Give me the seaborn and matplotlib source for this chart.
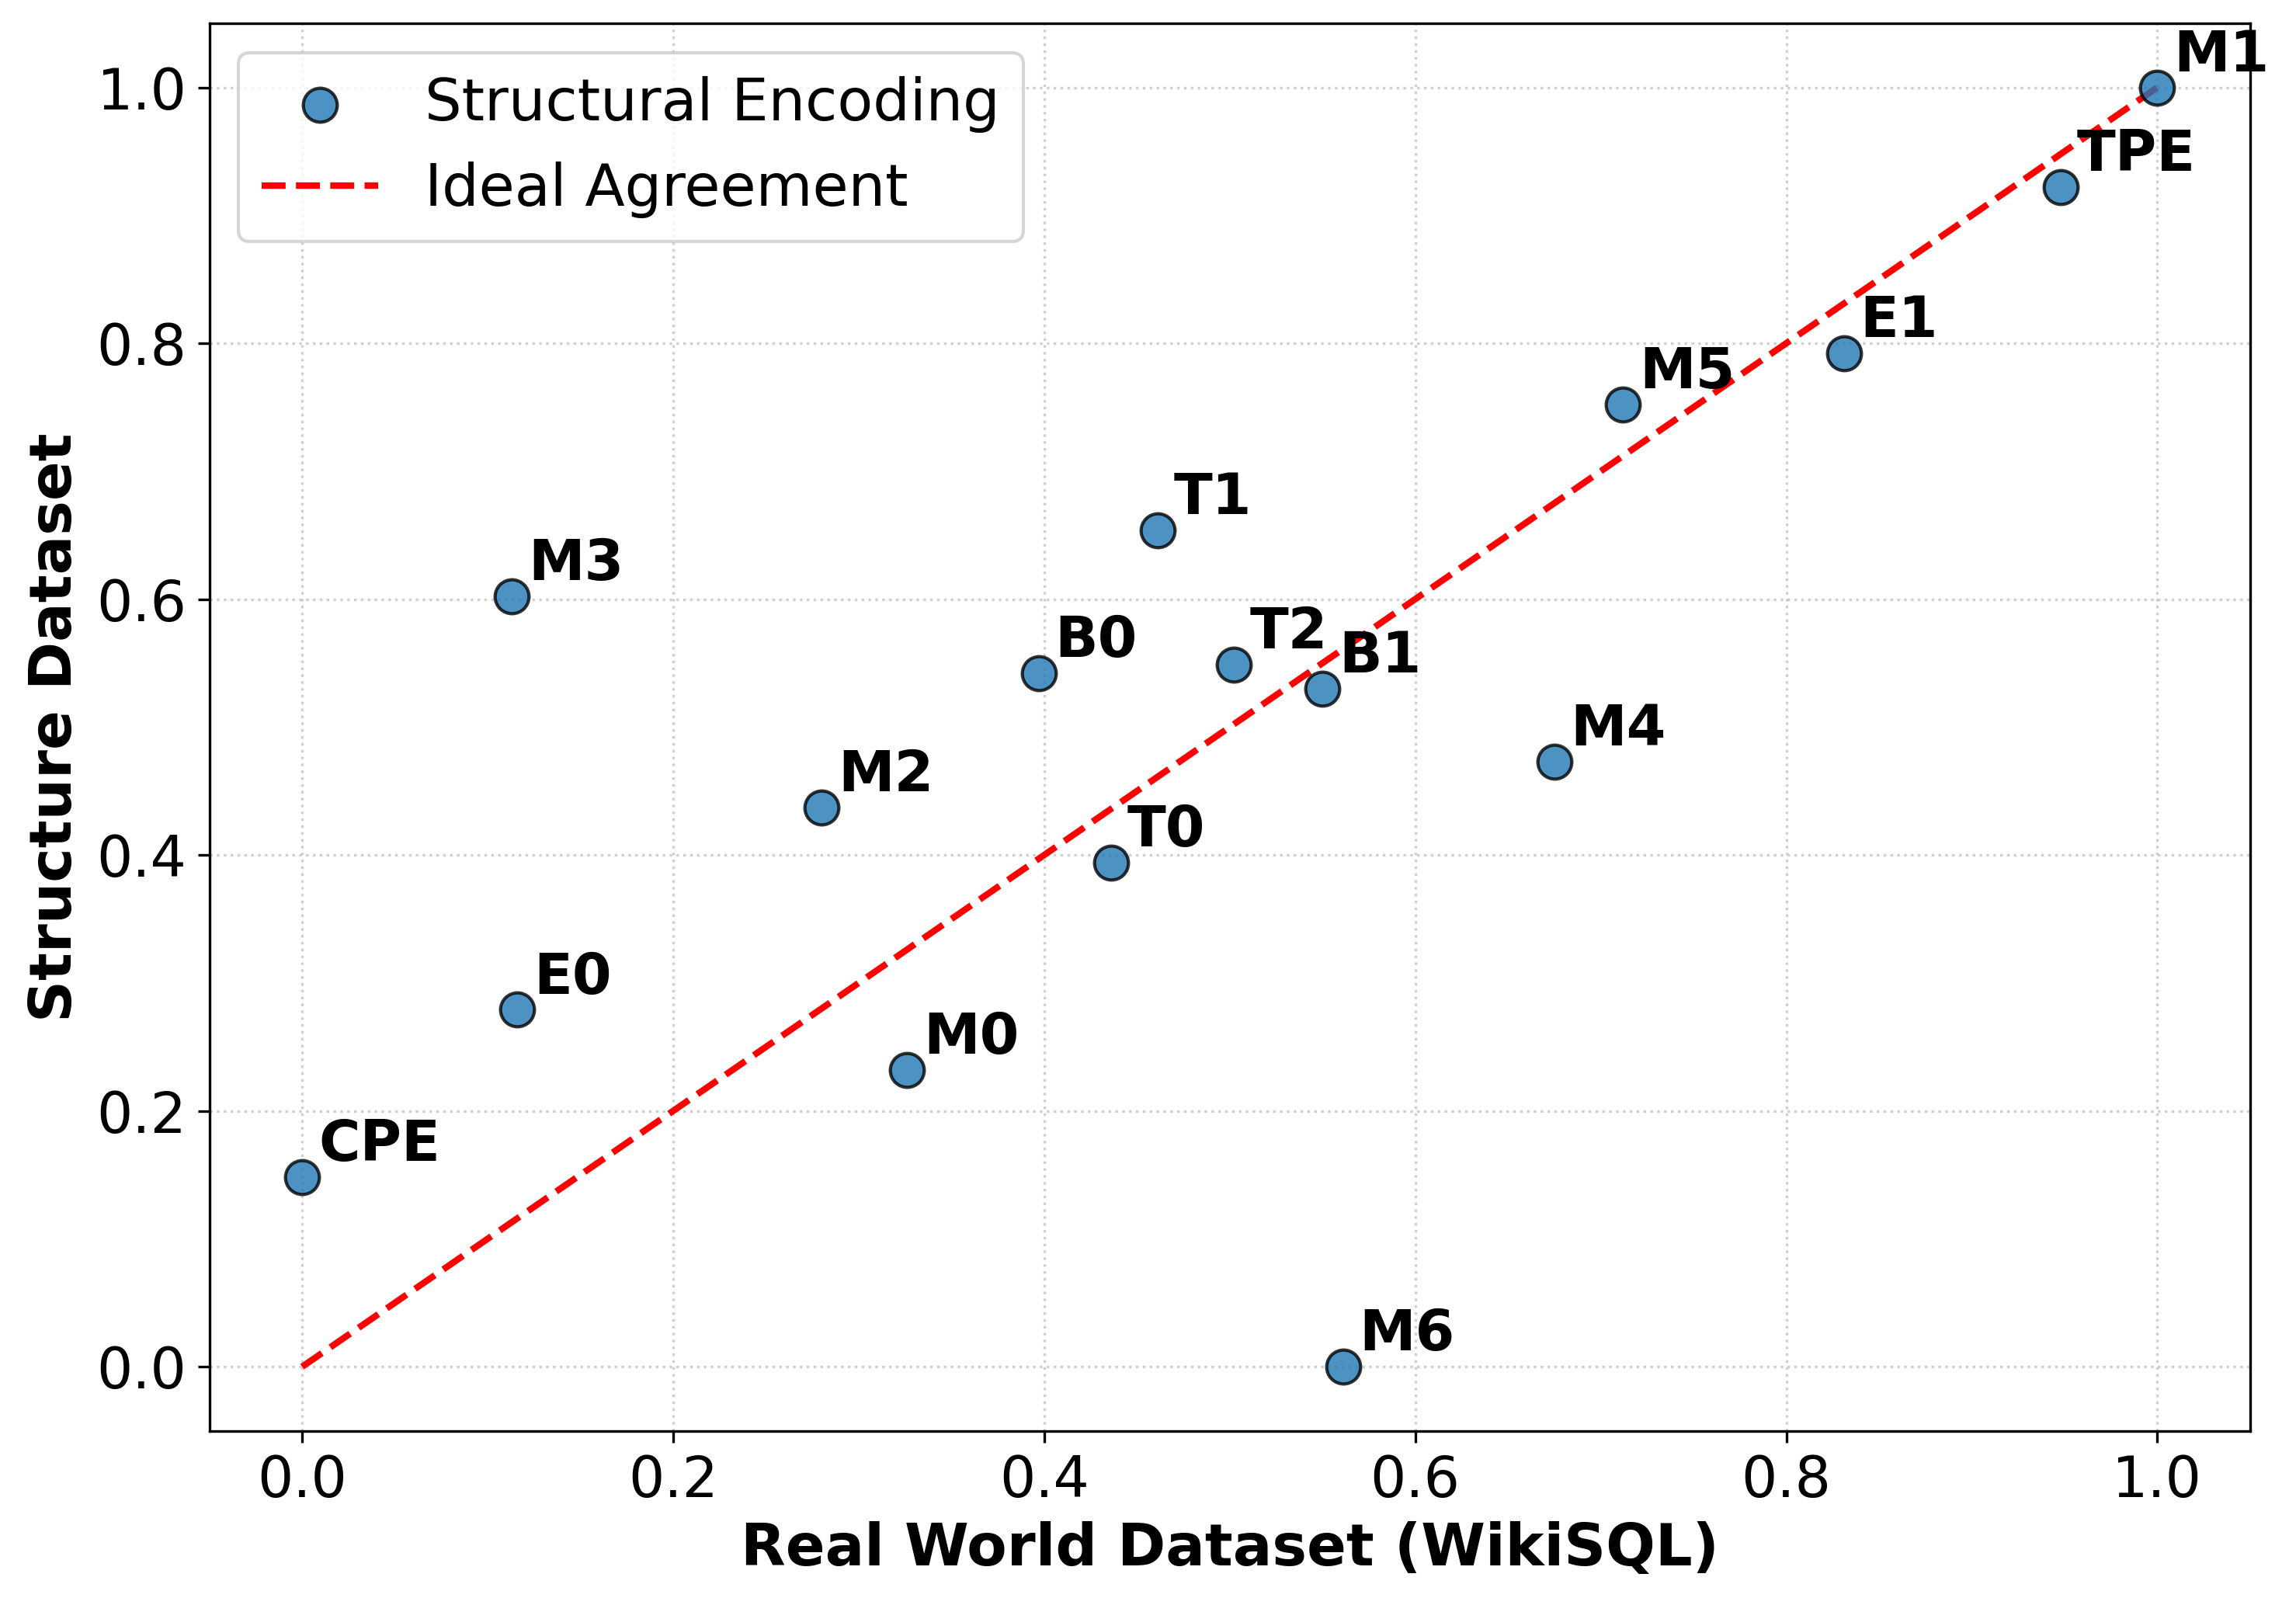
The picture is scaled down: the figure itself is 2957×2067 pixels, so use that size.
import pandas as pd
import numpy as np
import seaborn as sns
import matplotlib.pyplot as plt

# Normalised scores of each encoding on the two datasets
labels = ["M1", "TPE", "E1", "M5", "T1", "M3", "B0", "T2", "B1",
          "M4", "M2", "T0", "E0", "M0", "CPE", "M6"]
real_world = [1.000, 0.948, 0.831, 0.712, 0.461, 0.113, 0.397, 0.502, 0.550,
              0.675, 0.280, 0.436, 0.116, 0.326, 0.000, 0.561]
structure = [1.000, 0.922, 0.792, 0.752, 0.654, 0.602, 0.542, 0.549, 0.530,
             0.473, 0.437, 0.394, 0.279, 0.232, 0.148, 0.000]

df = pd.DataFrame({"label": labels, "real": real_world, "struct": structure})

fig = plt.figure(figsize=(2957 / 300, 2067 / 300), dpi=300)
ax = fig.add_axes([0.0912, 0.1086, 0.8888, 0.8768])

sns.scatterplot(data=df, x="real", y="struct", ax=ax, s=110, color="#1f77b4",
                alpha=0.8, edgecolor="black", linewidth=1.0,
                label="Structural Encoding", zorder=3)

ax.plot([0, 1], [0, 1], "r--", linewidth=2, label="Ideal Agreement", zorder=2)

for _, row in df.iterrows():
    ax.annotate(row["label"], (row["real"], row["struct"]),
                xytext=(5, 5), textcoords="offset points",
                fontsize=17.5, fontweight="bold")

ax.set_xlabel("Real World Dataset (WikiSQL)", fontsize=18, fontweight="bold")
ax.set_ylabel("Structure Dataset", fontsize=18, fontweight="bold")
ax.tick_params(labelsize=17.5)
ax.grid(True, linestyle=":", alpha=0.6)
ax.legend(loc="upper left", fontsize=18)

fig.savefig("out.png", dpi=300)
